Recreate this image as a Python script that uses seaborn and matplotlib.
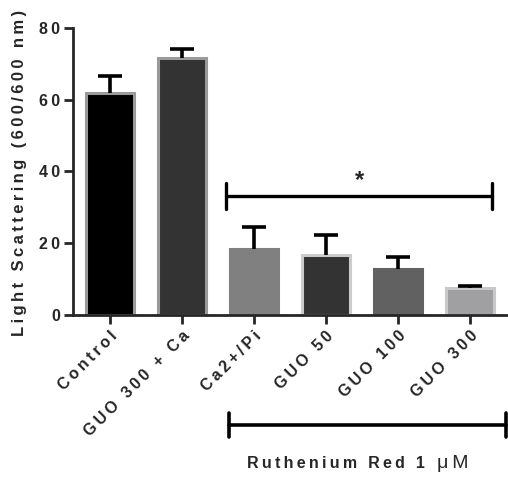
import matplotlib
matplotlib.use("Agg")
import matplotlib.pyplot as plt
import seaborn as sns
import pandas as pd

categories = ["Control", "GUO 300 + Ca", "Ca2+/Pi", "GUO 50", "GUO 100", "GUO 300"]
means = [61.8, 71.5, 18.4, 16.8, 12.8, 7.5]
errors = [4.8, 2.5, 6.1, 5.4, 3.4, 0.6]
fills = ["#000000", "#333333", "#808080", "#333333", "#616161", "#a0a0a2"]
edges = ["#9a9a9a", "#9a9a9a", "#808080", "#cccccc", "#616161", "#c8c8c8"]
yticks = [0, 20, 40, 60, 80]

sns.set_style("ticks")
plt.rcParams['font.family'] = ['Liberation Sans', 'DejaVu Sans']

TS = "\u2009"


def spaced(s):
    return TS.join(s)


df = pd.DataFrame({"cat": categories, "val": means})

fig = plt.figure(figsize=(5.08, 4.8), dpi=100)
ax = fig.add_axes([0.1437, 0.3438, 0.854, 0.598])

sns.barplot(data=df, x="cat", y="val", hue="cat", palette=fills, legend=False,
            width=0.66, ax=ax, errorbar=None, saturation=1)
for p, ec in zip(ax.patches, edges):
    p.set_edgecolor(ec)
    p.set_linewidth(2.2)

eb = ax.errorbar(range(len(categories)), means, yerr=[[0]*len(means), errors],
                 fmt="none", ecolor="black", elinewidth=2.6, capsize=8.5, capthick=2.6, zorder=5)
# keep only the upper caps
eb[1][0].set_visible(False)

ax.set_xlim(-0.51, 5.51)
ax.set_ylim(0, 80)
ax.set_yticks(yticks)
ax.set_yticklabels([spaced(str(t)) for t in yticks], fontsize=11.5, fontweight="bold")
ax.set_xticks(range(len(categories)))
ax.set_xticklabels([spaced(c) for c in categories], rotation=45, ha="right",
                   rotation_mode="anchor", fontsize=11.5, fontweight="bold")
sns.despine(ax=ax)
for s in ["left", "bottom"]:
    ax.spines[s].set_linewidth(2.0)
ax.tick_params(axis="both", width=2.0, length=6.5, direction="out", pad=3)
ax.set_xlabel("")
ax.set_ylabel("")
fig.text(20 / 508, 1 - 173 / 480, spaced("Light Scattering (600/600 nm)"),
         rotation=90, ha="center", va="center", fontsize=12, fontweight="bold")

# significance bracket
bx0, bx1, by = 1.62, 5.3, 33.1
ax.plot([bx0, bx1], [by, by], color="black", lw=2.4, clip_on=False)
ax.plot([bx0, bx0], [by - 3.6, by + 3.6], color="black", lw=2.4, clip_on=False)
ax.plot([bx1, bx1], [by - 3.6, by + 3.6], color="black", lw=2.4, clip_on=False)
ax.text((bx0 + bx1) / 2, by + 1.2, "*", ha="center", va="bottom", fontsize=17, fontweight="bold")

# Ruthenium red bracket (figure coords)
fy = 1 - 425 / 480
fx0, fx1 = 229 / 508, 506 / 508
fig.add_artist(plt.Line2D([fx0, fx1], [fy, fy], color="black", lw=2.6))
fig.add_artist(plt.Line2D([fx0, fx0], [fy - 0.026, fy + 0.026], color="black", lw=2.6))
fig.add_artist(plt.Line2D([fx1, fx1], [fy - 0.026, fy + 0.026], color="black", lw=2.6))
fig.text(425 / 508, 1 - 464 / 480, spaced("Ruthenium Red 1"),
         ha="right", va="center", fontsize=11.5, fontweight="bold")
fig.text(437 / 508, 1 - 464 / 480, "\u03bc" + TS + "M",
         ha="left", va="center", fontsize=14, fontweight="normal")

fig.savefig("out.png", dpi=100)
